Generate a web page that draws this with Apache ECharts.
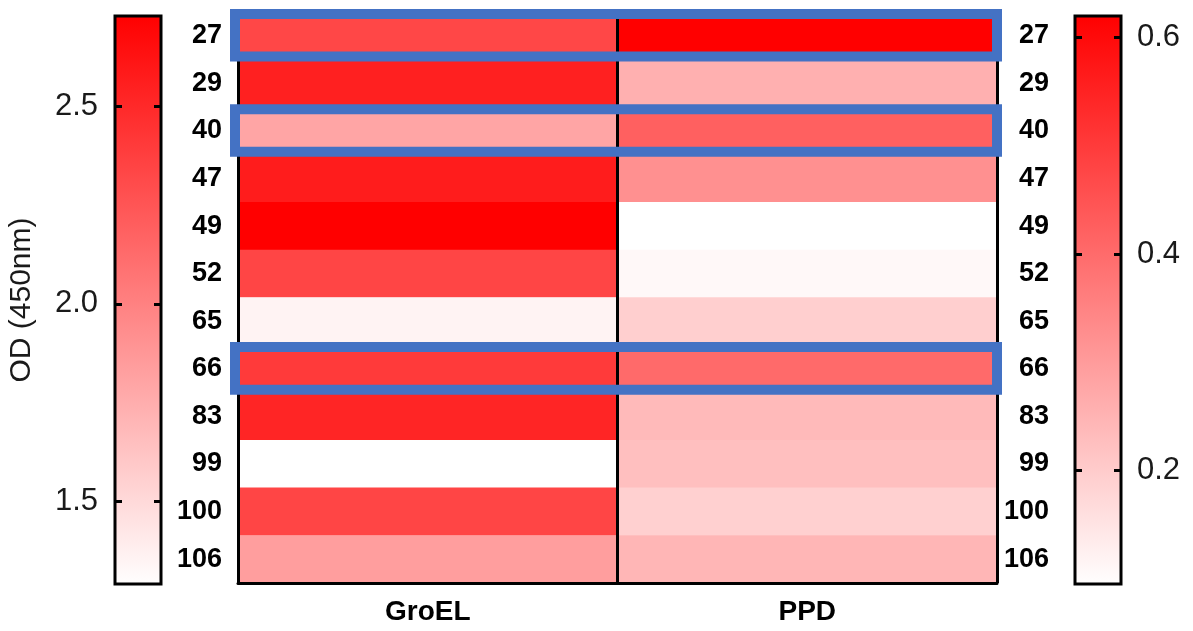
<!DOCTYPE html>
<html>
<head>
<meta charset="utf-8">
<title>OD heatmap</title>
<script src="https://cdn.jsdelivr.net/npm/echarts@6/dist/echarts.min.js"></script>
<style>
  html, body { margin: 0; padding: 0; background: #fff; }
  #chart { width: 1193px; height: 631px; }
</style>
</head>
<body>
<div id="chart"></div>
<script>
// Peptide rows, antigen columns and measured OD (450nm) per cell
const rows = ['27', '29', '40', '47', '49', '52', '65', '66', '83', '99', '100', '106'];
const antigens = ['GroEL', 'PPD'];
const groelOD = [2.33, 2.55, 1.80, 2.57, 2.73, 2.34, 1.36, 2.40, 2.52, 1.29, 2.34, 1.84];
const ppdOD = [0.62, 0.258, 0.422, 0.323, 0.095, 0.109, 0.194, 0.402, 0.237, 0.227, 0.192, 0.245];

// Colour scale ranges and their tick values
const groelScale = [1.29, 2.73];
const ppdScale = [0.095, 0.62];
const groelTicks = [1.5, 2.0, 2.5];
const ppdTicks = [0.2, 0.4, 0.6];

// Rows outlined in blue
const highlighted = ['27', '40', '66'];

const FONT = '"Liberation Sans", Arial, sans-serif';
const RAMP = ['#ffffff', '#ff0000'];

const chart = echarts.init(document.getElementById('chart'), null, { renderer: 'canvas' });

function colorbarItem(params, api) {
  const lo = api.value(1), hi = api.value(2);
  const a = api.coord([0, hi]);
  const b = api.coord([1, lo]);
  return {
    type: 'rect',
    shape: { x: a[0], y: a[1], width: b[0] - a[0], height: b[1] - a[1] },
    style: {
      fill: new echarts.graphic.LinearGradient(0, 0, 0, 1, [
        { offset: 0, color: RAMP[1] },
        { offset: 1, color: RAMP[0] }
      ]),
      stroke: '#000',
      lineWidth: 3
    }
  };
}

function highlightItem(params, api) {
  const idx = api.value(1);
  const c0 = api.coord([0, idx]);
  const c1 = api.coord([antigens.length - 1, idx]);
  const sz = api.size([1, 1]);
  const left = c0[0] - sz[0] / 2 - 3;
  const right = c1[0] + sz[0] / 2;
  const top = c0[1] - sz[1] / 2 + 2;
  const bottom = c0[1] + sz[1] / 2 - 3;
  return {
    type: 'rect',
    shape: { x: left, y: top, width: right - left, height: bottom - top },
    style: { fill: 'none', stroke: '#4472C4', lineWidth: 10 }
  };
}

const fmt1 = v => Number(v).toFixed(1);

const tickStyle = { show: true, inside: true, length: 7, lineStyle: { color: '#000', width: 3 } };

const option = {
  animation: false,
  backgroundColor: '#ffffff',
  grid: [
    { left: 238, right: 196, top: 12, bottom: 48 },
    { left: 115, width: 46, top: 16, height: 568 },
    { left: 1075, width: 46, top: 16, height: 568 }
  ],
  visualMap: [
    { type: 'continuous', show: false, seriesIndex: 0, dimension: 2,
      min: groelScale[0], max: groelScale[1], inRange: { color: RAMP } },
    { type: 'continuous', show: false, seriesIndex: 1, dimension: 2,
      min: ppdScale[0], max: ppdScale[1], inRange: { color: RAMP } }
  ],
  xAxis: [
    { gridIndex: 0, type: 'category', data: antigens, position: 'bottom', z: 5,
      axisLine: { show: true, lineStyle: { color: '#000', width: 3 } },
      axisTick: { show: false },
      splitLine: { show: true, lineStyle: { color: '#000', width: 3 } },
      axisLabel: { margin: 15, fontSize: 28, fontWeight: 'bold', color: '#000', fontFamily: FONT } },
    { gridIndex: 0, type: 'category', data: antigens, position: 'top', z: 5,
      axisLine: { show: true, lineStyle: { color: '#000', width: 3 } },
      axisTick: { show: false }, axisLabel: { show: false }, splitLine: { show: false } },
    { gridIndex: 1, type: 'value', min: 0, max: 1, show: false },
    { gridIndex: 2, type: 'value', min: 0, max: 1, show: false }
  ],
  yAxis: [
    { gridIndex: 0, type: 'category', data: rows, inverse: true, position: 'left', z: 5,
      axisLine: { show: false }, axisTick: { show: false }, splitLine: { show: false },
      axisLabel: { margin: 16, fontSize: 27, fontWeight: 'bold', color: '#000', fontFamily: FONT } },
    { gridIndex: 0, type: 'category', data: rows, inverse: true, position: 'right', z: 5,
      axisLine: { show: false }, axisTick: { show: false }, splitLine: { show: false },
      axisLabel: { margin: 52, align: 'right', fontSize: 27, fontWeight: 'bold', color: '#000', fontFamily: FONT } },
    { gridIndex: 1, type: 'value', position: 'left', min: groelScale[0], max: groelScale[1], z: 5,
      name: 'OD (450nm)', nameLocation: 'middle', nameGap: 78, nameRotate: 90,
      nameTextStyle: { fontSize: 30, color: '#1a1a1a', fontFamily: FONT },
      axisLine: { show: false }, splitLine: { show: false },
      axisTick: Object.assign({ customValues: groelTicks }, tickStyle),
      axisLabel: { customValues: groelTicks, formatter: fmt1, margin: 17, fontSize: 31, color: '#1a1a1a', fontFamily: FONT } },
    { gridIndex: 1, type: 'value', position: 'right', min: groelScale[0], max: groelScale[1], z: 5,
      axisLine: { show: false }, splitLine: { show: false },
      axisTick: Object.assign({ customValues: groelTicks }, tickStyle),
      axisLabel: { show: false } },
    { gridIndex: 2, type: 'value', position: 'left', min: ppdScale[0], max: ppdScale[1], z: 5,
      axisLine: { show: false }, splitLine: { show: false },
      axisTick: Object.assign({ customValues: ppdTicks }, tickStyle),
      axisLabel: { show: false } },
    { gridIndex: 2, type: 'value', position: 'right', min: ppdScale[0], max: ppdScale[1], z: 5,
      axisLine: { show: false }, splitLine: { show: false },
      axisTick: Object.assign({ customValues: ppdTicks }, tickStyle),
      axisLabel: { customValues: ppdTicks, formatter: fmt1, margin: 16, fontSize: 31, color: '#1a1a1a', fontFamily: FONT } }
  ],
  series: [
    { name: 'GroEL', type: 'heatmap', xAxisIndex: 0, yAxisIndex: 0,
      data: groelOD.map((v, i) => [0, i, v]), emphasis: { disabled: true } },
    { name: 'PPD', type: 'heatmap', xAxisIndex: 0, yAxisIndex: 0,
      data: ppdOD.map((v, i) => [1, i, v]), emphasis: { disabled: true } },
    { type: 'custom', xAxisIndex: 0, yAxisIndex: 0, z: 10, silent: true,
      renderItem: highlightItem, encode: { x: 0, y: 1 },
      data: highlighted.map(r => [0, rows.indexOf(r)]) },
    { type: 'custom', xAxisIndex: 2, yAxisIndex: 2, z: 2, silent: true,
      renderItem: colorbarItem, encode: { x: 0, y: [1, 2] },
      data: [[0, groelScale[0], groelScale[1]]] },
    { type: 'custom', xAxisIndex: 3, yAxisIndex: 4, z: 2, silent: true,
      renderItem: colorbarItem, encode: { x: 0, y: [1, 2] },
      data: [[0, ppdScale[0], ppdScale[1]]] }
  ]
};

chart.setOption(option);
</script>
</body>
</html>
